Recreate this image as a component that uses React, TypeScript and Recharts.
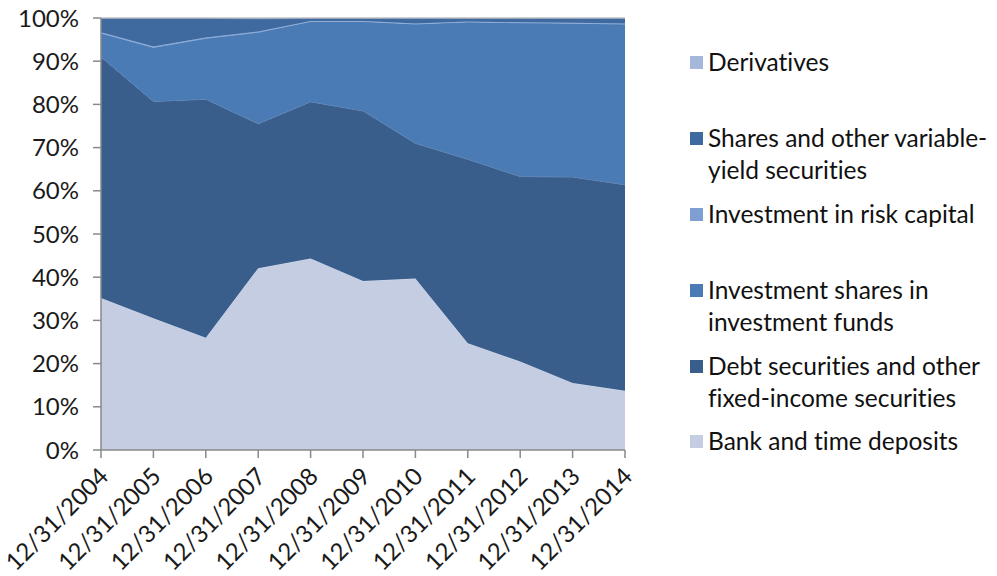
import React from "react";
import { AreaChart, Area, XAxis, YAxis } from "recharts";

// Year-end dates on the x axis
const dates = [
  "12/31/2004", "12/31/2005", "12/31/2006", "12/31/2007", "12/31/2008", "12/31/2009",
  "12/31/2010", "12/31/2011", "12/31/2012", "12/31/2013", "12/31/2014",
];

// Shares of the portfolio, in %
const bankDeposits = [35.2, 30.5, 26.0, 42.1, 44.3, 39.1, 39.7, 24.7, 20.5, 15.5, 13.7];
const debtSecurities = [55.8, 50.2, 55.2, 33.4, 36.3, 39.4, 31.3, 42.6, 42.8, 47.7, 47.7];
const fundShares = [5.5, 12.5, 14.1, 21.2, 18.6, 20.7, 27.6, 31.8, 35.6, 35.6, 37.2];
const riskCapital = [0.2, 0.2, 0.2, 0.2, 0.1, 0.1, 0.1, 0.1, 0.1, 0.1, 0.1];
const sharesVariable = [3.2, 6.5, 4.4, 2.9, 0.6, 0.6, 1.2, 0.7, 0.9, 1.0, 1.2];
const derivatives = [0.1, 0.1, 0.1, 0.2, 0.1, 0.1, 0.1, 0.1, 0.1, 0.1, 0.1];

const yTicks = [0, 10, 20, 30, 40, 50, 60, 70, 80, 90, 100];

const data = dates.map((d, i) => ({
  date: d,
  bank: bankDeposits[i],
  debt: debtSecurities[i],
  funds: fundShares[i],
  risk: riskCapital[i],
  shares: sharesVariable[i],
  deriv: derivatives[i],
}));

// bottom to top
const series = [
  { key: "bank", name: "Bank and time deposits", color: "#c4cde1", stroke: "#d6dced" },
  { key: "debt", name: "Debt securities and other fixed-income securities", color: "#395e8c", stroke: "#6f8db5" },
  { key: "funds", name: "Investment shares in investment funds", color: "#4a7bb5", stroke: "#8aa9d4" },
  { key: "risk", name: "Investment in risk capital", color: "#7d9fd3", stroke: "#9fb8e0" },
  { key: "shares", name: "Shares and other variable-yield securities", color: "#3f6aa0", stroke: "#6d8fbf" },
  { key: "deriv", name: "Derivatives", color: "#a5b8db", stroke: "#a8a8a8" },
];

// legend entries top to bottom, with the y of their first line
const legendRows = [
  { label: ["Derivatives"], color: "#a5b8db", y: 62 },
  { label: ["Shares and other variable-", "yield securities"], color: "#3f6aa0", y: 138 },
  { label: ["Investment in risk capital"], color: "#7d9fd3", y: 214 },
  { label: ["Investment shares in", "investment funds"], color: "#4a7bb5", y: 290 },
  { label: ["Debt securities and other", "fixed-income securities"], color: "#395e8c", y: 366 },
  { label: ["Bank and time deposits"], color: "#c4cde1", y: 441 },
];

const FONT = "Lato, 'Open Sans', sans-serif";
const AXIS = "#898989";

const DateTick = ({ x, y, payload }: any) => (
  <g transform={`translate(${x + 3},${y + 12})`}>
    <text
      transform="rotate(-45)"
      textAnchor="end"
      fontSize={24}
      fontFamily={FONT}
      fill="#1a1a1a"
      dy="0.35em"
      style={{ fontVariantLigatures: "none" }}
    >
      {payload.value}
    </text>
  </g>
);

export default function App() {
  return (
    <div style={{ position: "absolute", left: 0, top: 0, width: 997, height: 576, background: "#fff" }}>
      <AreaChart
        width={997}
        height={576}
        data={data}
        margin={{ top: 18, right: 372, bottom: 0, left: 0 }}
      >
        <XAxis
          dataKey="date"
          interval={0}
          tick={<DateTick />}
          height={126}
          stroke={AXIS}
          strokeWidth={1.5}
          tickSize={8}
        />
        <YAxis
          domain={[0, 100]}
          ticks={yTicks}
          width={101}
          interval={0}
          tickFormatter={(v) => `${v}%`}
          tick={{ fontSize: 24, fontFamily: FONT, fill: "#1a1a1a" }}
          stroke={AXIS}
          strokeWidth={1.5}
          tickSize={8}
          tickMargin={14}
        />
        {series.map((s) => (
          <Area
            key={s.key}
            dataKey={s.key}
            name={s.name}
            stackId="a"
            type="linear"
            fill={s.color}
            fillOpacity={1}
            stroke={s.stroke}
            strokeWidth={1}
            isAnimationActive={false}
            dot={false}
            activeDot={false}
          />
        ))}
      </AreaChart>
      {legendRows.map((r) => (
        <div key={r.label[0]} style={{ position: "absolute", left: 690, top: r.y - 16, fontFamily: FONT, fontSize: 24.5, lineHeight: "32px", color: "#111", fontVariantLigatures: "none" }}>
          <span style={{ position: "absolute", left: 0, top: 10, width: 13, height: 13, background: r.color }} />
          <div style={{ marginLeft: 18, whiteSpace: "nowrap" }}>
            {r.label.map((l) => (
              <div key={l}>{l}</div>
            ))}
          </div>
        </div>
      ))}
    </div>
  );
}
